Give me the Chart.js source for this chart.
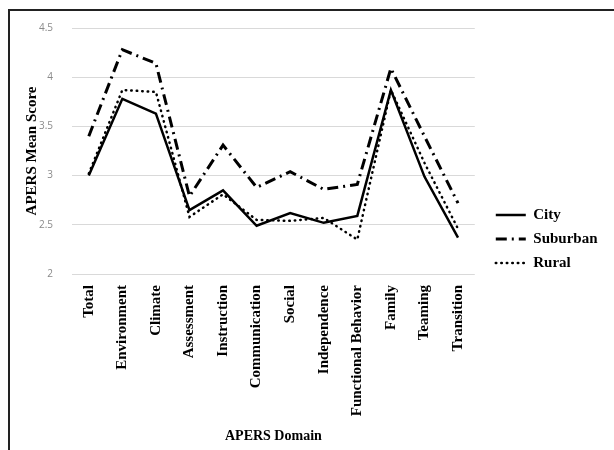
<!DOCTYPE html>
<html>
<head>
<meta charset="utf-8">
<script src="https://cdn.jsdelivr.net/npm/chart.js@4.4.0/dist/chart.umd.min.js"></script>
<style>
  html, body { margin: 0; padding: 0; background: #fff; overflow: hidden; }
  #wrap { position: relative; width: 614px; height: 450px; }
  #frame { position: absolute; left: 8px; top: 9px; width: 700px; height: 500px;
           border-left: 2px solid #222; border-top: 2px solid #222; pointer-events: none; }
</style>
</head>
<body>
<div id="wrap">
  <canvas id="chart" width="614" height="450"></canvas>
  <div id="frame"></div>
</div>
<script>
const categories = ['Total', 'Environment', 'Climate', 'Assessment', 'Instruction', 'Communication',
  'Social', 'Independence', 'Functional Behavior', 'Family', 'Teaming', 'Transition'];
const city     = [3.00, 3.78, 3.63, 2.65, 2.85, 2.49, 2.62, 2.52, 2.59, 3.87, 2.99, 2.37];
const suburban = [3.40, 4.28, 4.14, 2.79, 3.31, 2.88, 3.04, 2.86, 2.91, 4.09, 3.40, 2.72];
const rural    = [3.02, 3.87, 3.85, 2.58, 2.81, 2.55, 2.54, 2.57, 2.35, 3.87, 3.13, 2.46];
const yTicks = [2, 2.5, 3, 3.5, 4, 4.5];

const serif = "'Liberation Serif', 'Times New Roman', serif";

new Chart(document.getElementById('chart'), {
  type: 'line',
  data: {
    labels: categories,
    datasets: [
      { label: 'City', data: city, borderColor: '#000', borderWidth: 2.5,
        pointRadius: 0, tension: 0 },
      { label: 'Suburban', data: suburban, borderColor: '#000', borderWidth: 3,
        borderDash: [11, 5, 2, 5], pointRadius: 0, tension: 0 },
      { label: 'Rural', data: rural, borderColor: '#000', borderWidth: 2.5,
        borderDash: [0.5, 5], borderCapStyle: 'round', pointRadius: 0, tension: 0 }
    ]
  },
  options: {
    responsive: false,
    animation: false,
    layout: { padding: { top: 28, right: 6.5, bottom: 0, left: 0 } },
    plugins: {
      tooltip: { enabled: false },
      legend: {
        position: 'right',
        maxWidth: 140,
        labels: {
          usePointStyle: true,
          pointStyle: 'line',
          pointStyleWidth: 30,
          padding: 9,
          color: '#000',
          font: { family: serif, size: 15, weight: 'bold' },
          // legend lines take the dataset's dash, not the point's
          generateLabels: chart => chart.data.datasets.map((ds, i) => ({
            text: ds.label,
            datasetIndex: i,
            fillStyle: ds.borderColor,
            strokeStyle: ds.borderColor,
            lineWidth: ds.borderWidth,
            lineDash: ds.borderDash || [],
            lineCap: ds.borderCapStyle || 'butt',
            pointStyle: 'line',
            fontColor: '#000',
            hidden: false
          }))
        }
      }
    },
    scales: {
      x: {
        offset: true,
        grid: { display: false },
        border: { display: false },
        ticks: {
          autoSkip: false, minRotation: 90, maxRotation: 90, padding: 3,
          color: '#000', font: { family: serif, size: 15, weight: 'bold' }
        },
        title: {
          display: true, text: 'APERS Domain', color: '#000',
          font: { family: serif, size: 14, weight: 'bold' },
          padding: { top: 0, bottom: 5.6 }
        },
        afterFit: s => { s.height = 176; }
      },
      y: {
        min: 2, max: 4.5,
        grid: { color: '#d9d9d9', lineWidth: 1, drawTicks: false },
        border: { display: false },
        afterBuildTicks: s => { s.ticks = yTicks.map(v => ({ value: v })); },
        ticks: {
          padding: 19, color: '#8a8a8a',
          font: { family: "'Open Sans', 'Liberation Sans', sans-serif", size: 10 },
          callback: v => String(v)
        },
        title: {
          display: true, text: 'APERS Mean Score', color: '#000',
          font: { family: serif, size: 15, weight: 'bold' },
          padding: { top: 23, bottom: 0 }
        },
        afterFit: s => { s.width = 72; }
      },
      gap: {
        type: 'linear', position: 'right', display: true,
        grid: { display: false }, border: { display: false },
        ticks: { display: false },
        afterFit: s => { s.width = 12; }
      }
    }
  }
});
</script>
</body>
</html>
